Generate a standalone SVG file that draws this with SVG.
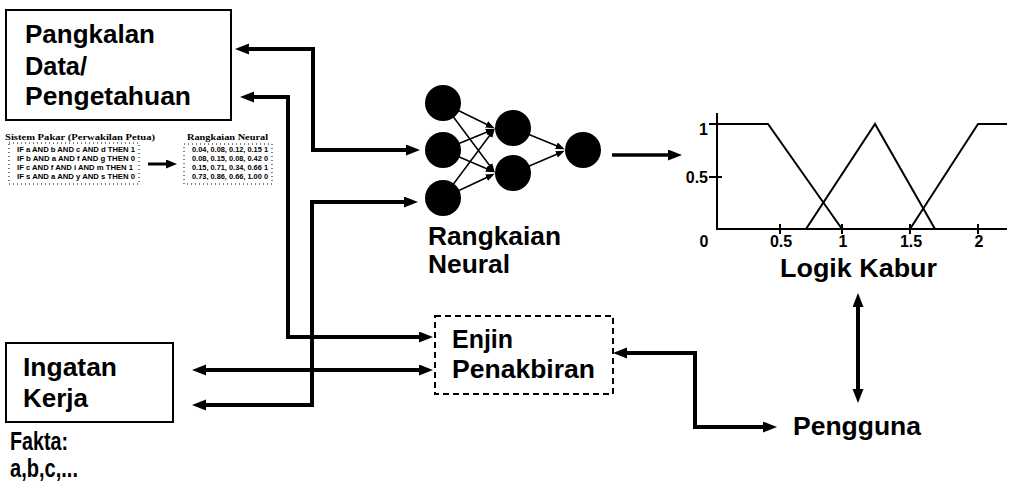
<svg xmlns="http://www.w3.org/2000/svg" width="1016" height="485" viewBox="0 0 1016 485">
<style>
.lbl{font-family:"Liberation Sans",Arial,sans-serif;font-weight:bold;font-size:25px;fill:#000}
.ax{font-family:"Liberation Sans",Arial,sans-serif;font-weight:bold;font-size:16px;fill:#000}
.sm{font-family:"Liberation Sans",Arial,sans-serif;font-weight:bold;font-size:7px;fill:#000}
.smt{font-family:"Liberation Serif","Times New Roman",serif;font-weight:bold;font-size:9px;fill:#000}
.box{fill:#fff;stroke:#000;stroke-width:2}
.dbox{fill:none;stroke:#000;stroke-width:2;stroke-dasharray:6 4}
.dot{fill:none;stroke:#000;stroke-width:1;stroke-dasharray:1 3}
.con{fill:none;stroke:#000;stroke-width:4;marker-start:url(#ah);marker-end:url(#ah)}
.one{fill:none;stroke:#000;stroke-width:3.5;marker-end:url(#ah)}
.nn{fill:none;stroke:#000;stroke-width:1.5;marker-end:url(#ahs)}
.crv{fill:none;stroke:#000;stroke-width:2}
.node{fill:#000}
</style>
<defs>
<marker id="ah" markerUnits="userSpaceOnUse" markerWidth="14" markerHeight="12" refX="4" refY="5.5" orient="auto-start-reverse">
<path d="M0,0 L14,5.5 L0,11 z" fill="#000"/>
</marker>
<marker id="ahs" markerUnits="userSpaceOnUse" markerWidth="9" markerHeight="8" refX="6" refY="3.5" orient="auto">
<path d="M0,0 L9,3.5 L0,7 z" fill="#000"/>
</marker>
<marker id="ahm" markerUnits="userSpaceOnUse" markerWidth="11" markerHeight="10" refX="3" refY="4.5" orient="auto">
<path d="M0,0 L11,4.5 L0,9 z" fill="#000"/>
</marker>
</defs>

<g id="connectors">
<path class="con" d="M245,49 H313 V150 H410"/>
<path class="con" d="M250,97 H288 V337 H423"/>
<path class="con" d="M202,370 H423"/>
<path class="con" d="M202,405 H312 V202 H408"/>
<path class="con" d="M623,353 H695 V427 H767"/>
<path class="con" d="M858,303 V393"/>
<path class="one" d="M612,155 H672"/>
<path d="M148,164 H169" fill="none" stroke="#000" stroke-width="3" marker-end="url(#ahm)"/>
</g>

<g id="pangkalan">
<rect class="box" x="6" y="10" width="225" height="110"/>
<text class="lbl" x="25" y="43" textLength="130" lengthAdjust="spacingAndGlyphs">Pangkalan</text>
<text class="lbl" x="25" y="75" textLength="62" lengthAdjust="spacingAndGlyphs">Data/</text>
<text class="lbl" x="25" y="105" textLength="166" lengthAdjust="spacingAndGlyphs">Pengetahuan</text>
</g>

<g id="sistem-pakar">
<text class="smt" x="5" y="140" textLength="150" lengthAdjust="spacingAndGlyphs">Sistem Pakar (Perwakilan Petua)</text>
<rect class="dot" x="9" y="143" width="130" height="41"/>
<text class="sm" x="17" y="152" textLength="118" lengthAdjust="spacingAndGlyphs">IF a AND b AND c AND d THEN 1</text>
<text class="sm" x="17" y="161" textLength="118" lengthAdjust="spacingAndGlyphs">IF b AND a AND f AND g THEN 0</text>
<text class="sm" x="17" y="170" textLength="116" lengthAdjust="spacingAndGlyphs">IF c AND f AND i AND m THEN 1</text>
<text class="sm" x="17" y="179" textLength="118" lengthAdjust="spacingAndGlyphs">IF s AND a AND y AND s THEN 0</text>
</g>

<g id="rangkaian-data">
<text class="smt" x="187" y="140" textLength="81" lengthAdjust="spacingAndGlyphs">Rangkaian Neural</text>
<rect class="dot" x="184" y="144" width="88" height="40"/>
<text class="sm" x="192" y="152" textLength="76" lengthAdjust="spacingAndGlyphs">0.04, 0.08, 0.12, 0.15 1</text>
<text class="sm" x="192" y="161" textLength="76" lengthAdjust="spacingAndGlyphs">0.08, 0.15, 0.08, 0.42 0</text>
<text class="sm" x="192" y="170" textLength="76" lengthAdjust="spacingAndGlyphs">0.15, 0.71, 0.34, 0.66 1</text>
<text class="sm" x="192" y="179" textLength="76" lengthAdjust="spacingAndGlyphs">0.73, 0.86, 0.66, 1.00 0</text>
</g>

<g id="rangkaian-neural">
<path class="nn" d="M443,103 L492,127"/>
<path class="nn" d="M443,103 L493,170"/>
<path class="nn" d="M443,150 L492,130"/>
<path class="nn" d="M443,150 L492,171"/>
<path class="nn" d="M443,198 L493,131"/>
<path class="nn" d="M443,198 L492,175"/>
<path class="nn" d="M513,128 L562,148"/>
<path class="nn" d="M513,173 L562,152"/>
<circle class="node" cx="443" cy="103" r="18"/>
<circle class="node" cx="443" cy="150" r="18"/>
<circle class="node" cx="443" cy="198" r="18"/>
<circle class="node" cx="513" cy="128" r="18"/>
<circle class="node" cx="513" cy="173" r="18"/>
<circle class="node" cx="583" cy="150" r="18"/>
<text class="lbl" x="428" y="245" textLength="133" lengthAdjust="spacingAndGlyphs">Rangkaian</text>
<text class="lbl" x="428" y="273" textLength="82" lengthAdjust="spacingAndGlyphs">Neural</text>
</g>

<g id="logik-kabur">
<path class="crv" d="M717,113 V229 H1007"/>
<path class="crv" d="M709,124 H722 M709,177 H722"/>
<path class="crv" d="M780,224 V234 M842,224 V234 M910,224 V234 M978,224 V234"/>
<polyline class="crv" points="717,124 768,124 842,229"/>
<polyline class="crv" points="806,229 875,124 935,229"/>
<polyline class="crv" points="910,229 978,124 1007,124"/>
<text class="ax" x="708" y="135" text-anchor="end">1</text>
<text class="ax" x="708" y="183" text-anchor="end">0.5</text>
<text class="ax" x="704" y="247" text-anchor="middle">0</text>
<text class="ax" x="781" y="247" text-anchor="middle">0.5</text>
<text class="ax" x="843" y="247" text-anchor="middle">1</text>
<text class="ax" x="911" y="247" text-anchor="middle">1.5</text>
<text class="ax" x="979" y="247" text-anchor="middle">2</text>
<text class="lbl" x="780" y="277" font-size="26" textLength="157" lengthAdjust="spacingAndGlyphs">Logik Kabur</text>
</g>

<g id="enjin-penakbiran">
<rect class="dbox" x="435" y="316" width="178" height="78"/>
<text class="lbl" x="452" y="348" textLength="61" lengthAdjust="spacingAndGlyphs">Enjin</text>
<text class="lbl" x="452" y="378" textLength="143" lengthAdjust="spacingAndGlyphs">Penakbiran</text>
</g>

<g id="ingatan-kerja">
<rect class="box" x="6" y="343" width="167" height="79"/>
<text class="lbl" x="23" y="376" textLength="94" lengthAdjust="spacingAndGlyphs">Ingatan</text>
<text class="lbl" x="23" y="407" textLength="65" lengthAdjust="spacingAndGlyphs">Kerja</text>
<text class="lbl" x="10" y="450" font-size="17" textLength="58" lengthAdjust="spacingAndGlyphs">Fakta:</text>
<text class="lbl" x="10" y="477" font-size="17" textLength="68" lengthAdjust="spacingAndGlyphs">a,b,c,...</text>
</g>

<g id="pengguna">
<text class="lbl" x="793" y="435" textLength="128" lengthAdjust="spacingAndGlyphs">Pengguna</text>
</g>
</svg>
